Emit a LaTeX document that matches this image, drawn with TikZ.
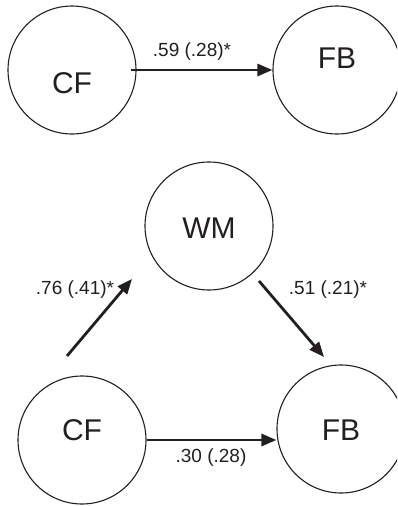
\documentclass[tikz,border=0pt]{standalone}
\usepackage{fontspec}
\setmainfont{Liberation Sans}
\usepackage{tikz}
\usetikzlibrary{positioning, arrows.meta}
\definecolor{ink}{RGB}{35,31,32}

\begin{document}
\begin{tikzpicture}[x=1pt, y=-1pt,
    var/.style={draw=ink, circle, line width=1.1pt, minimum size=128pt, inner sep=0pt},
    varname/.style={text=ink, font=\fontsize{30}{33}\selectfont},
    effect/.style={-{Triangle[length=15pt,width=12pt]}, line width=2.8pt, draw=ink},
    coef/.style={text=ink, font=\fontsize{19}{22}\selectfont}]
    \useasboundingbox (0,0) rectangle (397,506);
    \clip (0,0) rectangle (397,506);

    % Total effect
    \node[var] (cfa) at (72,70) {};
    \node[var] (fba) at (337,70) {};
    \node[varname] (cfatext) at (72,83) {CF};
    \node[varname] (fbatext) at (337,58) {FB};
    \draw[effect] ([xshift=-6pt]cfa.east) -- (fba.west);
    \node[coef] (ca) at (192,52) {.59 (.28)*};

    % Mediation model
    \node[var] (wm) at (209,226) {};
    \node[var] (cfb) at (82,440) {};
    \node[var] (fbb) at (341,429) {};
    \node[varname] (wmtext) at (209,228) {WM};
    \node[varname] (cfbtext) at (82,430) {CF};
    \node[varname] (fbbtext) at (341,430) {FB};

    \coordinate (cfout) at (67,356);
    \coordinate (wmin) at (132,279);
    \coordinate (wmout) at (259,281);
    \coordinate (fbin) at (324,357);
    \draw[effect] (cfout) -- (wmin);
    \draw[effect] (wmout) -- (fbin);
    \draw[effect] (cfb.east) -- (cfb.east -| fbb.west);

    \node[coef] (cb) at (75,290) {.76 (.41)*};
    \node[coef] (cc) at (328,290) {.51 (.21)*};
    \node[coef] (cd) at (211,458) {.30 (.28)};
\end{tikzpicture}
\end{document}
